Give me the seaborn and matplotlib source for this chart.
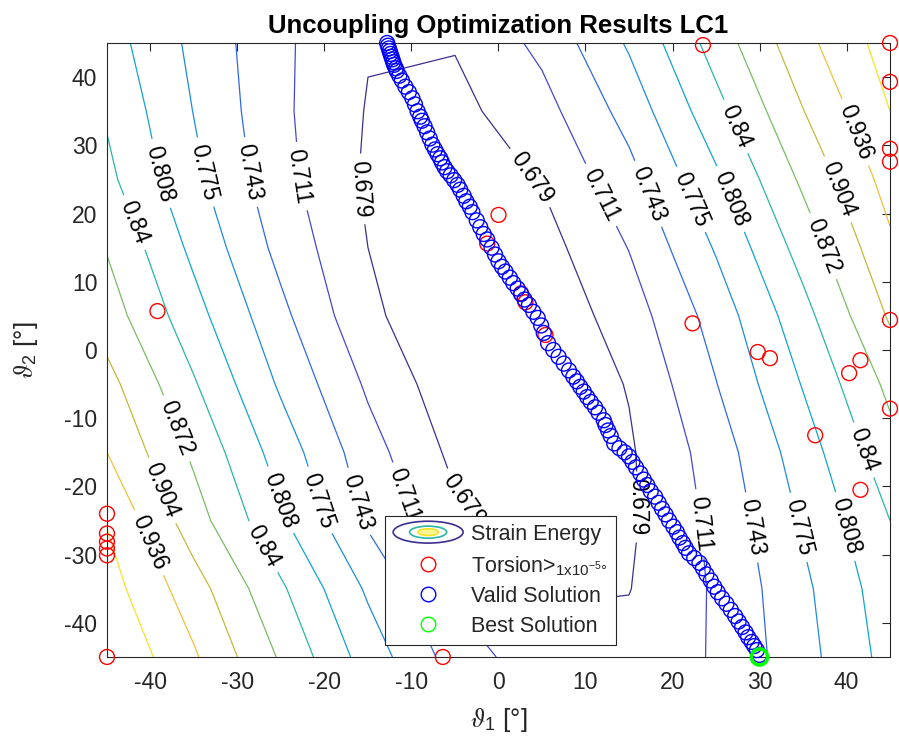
import numpy as np
import matplotlib
matplotlib.use("Agg")
import matplotlib.pyplot as plt
import matplotlib.patches as mpatches
from matplotlib.lines import Line2D
from matplotlib.legend_handler import HandlerBase
import seaborn as sns

# grid of the strain energy field (rows from theta2 = 45 down to -45)
theta1_grid = [-45, -35, -25, -15, -5, 5, 15, 25, 35, 45]
theta2_grid = [45, 35, 25, 15, 5, -5, -15, -25, -35, -45]
strain_energy = [
    [0.823, 0.767, 0.717, 0.681, 0.681, 0.719, 0.779, 0.854, 0.926, 0.983],
    [0.836, 0.774, 0.717, 0.677, 0.670, 0.699, 0.755, 0.829, 0.903, 0.968],
    [0.848, 0.783, 0.721, 0.674, 0.661, 0.681, 0.732, 0.802, 0.878, 0.949],
    [0.870, 0.800, 0.733, 0.679, 0.655, 0.666, 0.712, 0.778, 0.853, 0.930],
    [0.888, 0.820, 0.751, 0.686, 0.652, 0.655, 0.695, 0.756, 0.829, 0.908],
    [0.915, 0.843, 0.770, 0.706, 0.658, 0.651, 0.681, 0.742, 0.810, 0.880],
    [0.936, 0.866, 0.793, 0.724, 0.671, 0.655, 0.675, 0.726, 0.792, 0.860],
    [0.966, 0.886, 0.813, 0.738, 0.686, 0.663, 0.674, 0.719, 0.779, 0.840],
    [0.982, 0.918, 0.845, 0.770, 0.705, 0.675, 0.678, 0.715, 0.768, 0.827],
    [1.000, 0.940, 0.868, 0.793, 0.729, 0.691, 0.689, 0.714, 0.763, 0.820],
]
levels = [0.679, 0.711, 0.743, 0.775, 0.808, 0.84, 0.872, 0.904, 0.936, 0.968]

# where the contour values are written
label_spots = {
    0.679: [(-16.5, 23.5), (4.4, 25.9), (-4.4, -22.4), (16.5, -23.0)],
    0.711: [(-23.2, 25.4), (12.2, 23.0), (-11.3, -21.5), (23.7, -25.4)],
    0.743: [(-28.9, 26.0), (17.4, 23.0), (-16.5, -22.4), (29.7, -25.9)],
    0.775: [(-34.0, 26.0), (22.0, 22.0), (-20.5, -22.0), (34.9, -25.9)],
    0.808: [(-38.7, 25.9), (26.4, 22.0), (-25.1, -22.0), (39.8, -25.9)],
    0.84: [(-42.0, 18.6), (27.2, 32.7), (-27.1, -28.9), (41.9, -14.7)],
    0.872: [(37.1, 15.1), (-37.0, -11.5)],
    0.904: [(38.9, 23.5), (-38.5, -20.5)],
    0.936: [(40.8, 31.8), (-40.3, -28.3)],
}

# designs with torsion above 1e-5 deg
torsion_t1 = [23.5, 45, 45, 45, 45, 45, 22.3, 0.0, -1.3, 2.6, 3.1, 5.4, 29.8, 31.2,
              40.3, 41.6, 45, 36.4, 41.6, -39.2, -45, -45, -45, -45, -45, -45, -6.4]
torsion_t2 = [44.7, 45, 39.3, 29.5, 27.6, 4.4, 3.9, 19.8, 15.6, 8.3, 7.0, 2.2, -0.3, -1.2,
              -3.4, -1.5, -8.6, -12.5, -20.5, 5.7, -24.0, -26.9, -28.1, -29.1, -30.1, -45, -45]

# valid solutions
valid_t1 = [-12.8, -12.7, -12.6, -12.5, -12.4, -12.3, -12.2, -12.1, -12.0, -11.8, -11.7,
            -11.4, -11.1, -10.7, -10.3, -9.9, -9.6, -9.3, -9.0, -8.8, -8.5, -8.2, -7.9, -7.6,
            -7.3, -7.0, -6.7, -6.5, -6.2, -5.9, -5.5, -5.1, -4.7, -4.4, -4.0, -3.7, -3.3,
            -3.0, -2.5, -2.1, -1.7, -1.3, -0.8, -0.4, 0.0, 0.4, 0.8, 1.3, 1.7, 2.2, 2.6,
            3.0, 3.5, 4.0, 4.5, 4.9, 5.2, 5.7, 6.3, 6.9, 7.5, 8.1, 8.6, 9.0, 9.4, 9.8, 10.2,
            10.6, 11.1, 11.5, 12.1, 12.3, 12.6, 12.9, 13.3, 13.9, 14.5, 15.0, 15.4, 15.8,
            16.3, 16.7, 17.1, 17.5, 18.0, 18.4, 18.8, 19.2, 19.6, 20.1, 20.5, 20.8, 21.2,
            21.5, 21.9, 22.5, 23.1, 23.5, 23.9, 24.4, 24.8, 25.2, 25.7, 26.2, 26.7, 27.2,
            27.6, 28.0, 28.4, 28.7, 29.1, 29.4, 29.7, 30.0]
valid_t2 = [45.0, 44.6, 44.2, 43.8, 43.4, 43.0, 42.6, 42.2, 41.8, 41.3, 40.9,
            40.2, 39.5, 38.6, 37.8, 36.9, 36.0, 35.0, 34.2, 33.6, 32.8, 31.9, 31.0, 30.1,
            29.4, 28.7, 28.1, 27.5, 26.8, 26.2, 25.6, 24.9, 24.2, 23.5, 22.6, 21.8, 21.0,
            20.2, 19.0, 18.0, 17.0, 16.2, 15.0, 14.0, 13.0, 12.2, 11.5, 10.6, 9.8, 9.0, 8.2,
            7.4, 6.6, 5.6, 4.7, 3.6, 2.5, 1.0, 0.0, -1.0, -2.0, -3.0, -3.9, -4.6, -5.4, -6.1,
            -6.9, -7.6, -8.4, -9.2, -10.3, -11.0, -11.8, -12.6, -13.7, -14.4, -15.0, -15.6,
            -16.4, -17.2, -18.1, -19.0, -19.8, -20.7, -21.5, -22.4, -23.3, -24.1, -25.0,
            -25.9, -26.7, -27.5, -28.3, -29.0, -29.8, -30.5, -31.2, -32.0, -32.9, -33.8,
            -34.7, -35.5, -36.4, -37.2, -38.1, -39.0, -39.8, -40.6, -41.4, -42.1, -42.8,
            -43.4, -44.0, -44.7]

best_t1 = [30.0]
best_t2 = [-45.0]

# parula-like line colours, one per level
level_colors = ["#3b2f8f", "#4548cf", "#2f68e6", "#1d8bdf", "#0fa6cc", "#2ab5a6",
                "#78bd62", "#c2ba3c", "#efc13c", "#f4e425"]

sns.set_theme(style="white")
plt.rcParams["font.family"] = ["Liberation Sans", "DejaVu Sans"]
plt.rcParams["mathtext.fontset"] = "stix"
plt.rcParams["axes.unicode_minus"] = False
dark = "#262626"

fig = plt.figure(figsize=(8.99, 7.40), dpi=100)
ax = fig.add_axes([0.119, 0.1122, 0.871, 0.8297])

z = np.array(strain_energy)[::-1]
y_up = theta2_grid[::-1]
for lev, col in zip(levels, level_colors):
    cs = ax.contour(theta1_grid, y_up, z, levels=[lev], colors=[col],
                    linewidths=0.9, zorder=1)
    if lev in label_spots:
        ax.clabel(cs, manual=label_spots[lev], inline=True, inline_spacing=7,
                  fontsize=16.5, colors="black", fmt="%.3g")

sns.scatterplot(x=torsion_t1, y=torsion_t2, ax=ax, marker="o", s=115, facecolor="none",
                edgecolor="red", linewidth=1.0, clip_on=False, zorder=4, legend=False)
sns.scatterplot(x=valid_t1, y=valid_t2, ax=ax, marker="o", s=115, facecolor="none",
                edgecolor="blue", linewidth=1.0, clip_on=False, zorder=5, legend=False)
sns.scatterplot(x=best_t1, y=best_t2, ax=ax, marker="o", s=135, facecolor="none",
                edgecolor="#00ff00", linewidth=2.6, clip_on=False, zorder=6, legend=False)

ax.set_xlim(-45, 45)
ax.set_ylim(-45, 45)
ax.set_xticks(range(-40, 41, 10))
ax.set_yticks(range(-40, 41, 10))
ax.tick_params(direction="in", top=True, right=True, length=6, width=0.8,
               colors=dark, labelsize=16.5)
ax.tick_params(axis="x", pad=10)
ax.tick_params(axis="y", pad=7)
for sp in ax.spines.values():
    sp.set_visible(True)
    sp.set_color(dark)
    sp.set_linewidth(0.8)

ax.set_title("Uncoupling Optimization Results LC1", fontsize=18.5, fontweight="bold",
             color="black", pad=7)
ax.set_xlabel(r"$\vartheta_{\mathregular{1}}$ [°]", fontsize=18.5, color=dark)
ax.set_ylabel(r"$\vartheta_{\mathregular{2}}$ [°]", fontsize=18.5, color=dark)
ax.xaxis.set_label_coords(0.5, -0.08)
ax.yaxis.set_label_coords(-0.085, 0.5)


class EllipsesHandler(HandlerBase):
    def create_artists(self, legend, orig_handle, xdescent, ydescent, width, height,
                       fontsize, trans):
        cx = 0.5 * width - xdescent
        cy = 0.5 * height - ydescent
        out = []
        for fw, fh, col, face in [(1.0, 1.45, level_colors[0], "none"),
                                  (0.53, 0.8, level_colors[5], "none"),
                                  (0.29, 0.45, level_colors[9], "#fbf59a")]:
            out.append(mpatches.Ellipse((cx, cy), fw * width, fh * height, facecolor=face,
                                        edgecolor=col, lw=1.2, transform=trans))
        return out


handles = [
    mpatches.Ellipse((0, 0), 1, 1),
    Line2D([], [], ls="none", marker="o", ms=10.5, mfc="none", mec="red", mew=1.0),
    Line2D([], [], ls="none", marker="o", ms=10.5, mfc="none", mec="blue", mew=1.0),
    Line2D([], [], ls="none", marker="o", ms=10.5, mfc="none", mec="#00ff00", mew=1.0),
]
labels = ["Strain Energy", r"Torsion>$_{\mathregular{1x10^{-5}°}}$",
          "Valid Solution", "Best Solution"]
leg = ax.legend(handles, labels, handler_map={mpatches.Ellipse: EllipsesHandler()},
                loc="lower left", bbox_to_anchor=(0.355, 0.0195), frameon=True,
                fancybox=False, edgecolor=dark, framealpha=1, fontsize=15.5,
                handlelength=3.25, handletextpad=0.37, labelspacing=0.42, borderpad=0.38,
                borderaxespad=0)
leg.get_frame().set_linewidth(0.8)
leg.set_zorder(10)

fig.savefig("out.png", dpi=100)
